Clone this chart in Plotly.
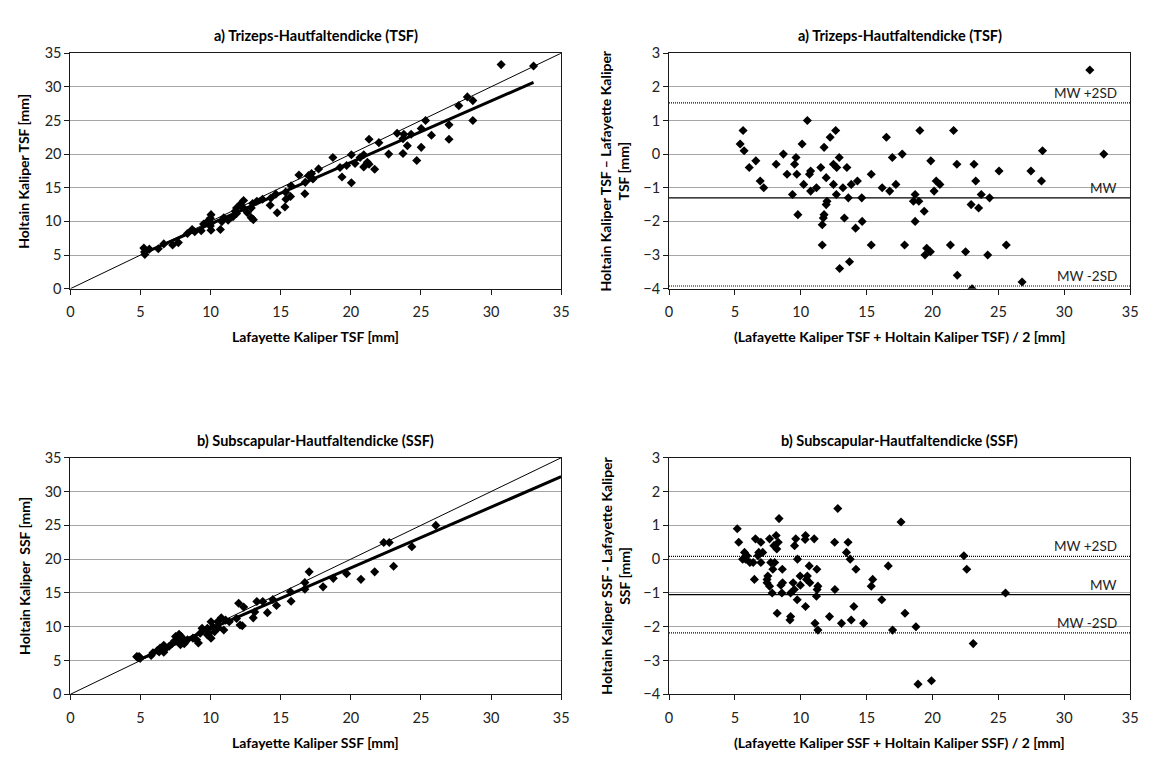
import plotly.graph_objects as go

# ---------------- data ----------------
# a) TSF: Lafayette (x) vs Holtain (y)
tsf_laf = [30.72, 33.03, 28.31, 28.7, 27.7, 28.7, 25.33, 25.02, 27.0, 25.75, 23.3, 23.78, 24.3, 23.72,
           27.0, 21.3, 22.0, 24.03, 25.02, 22.7, 23.72, 20.04, 18.72, 20.92, 20.66, 21.18, 21.3, 20.3,
           20.92, 21.7, 24.7, 19.7, 19.23, 19.37, 20.04, 17.7, 17.2, 16.98, 16.3, 17.3, 16.75, 16.72,
           15.74, 15.35, 15.7, 15.37, 15.3, 14.75, 14.65, 14.3, 14.25, 13.7, 13.3, 13.0, 12.35, 12.1,
           11.85, 12.35, 12.9, 11.75, 12.62, 12.9, 13.05, 11.85, 11.6, 11.25, 10.94, 10.8, 10.7, 10.03,
           9.98, 10.03, 9.98, 10.03, 9.77, 9.5, 9.33, 8.68, 8.35, 7.7, 7.29, 6.66, 6.27, 5.63, 5.24,
           5.29, 5.31, 8.87]
tsf_hol = [33.3, 33.1, 28.5, 27.95, 27.2, 24.99, 24.99, 23.8, 24.35, 22.8, 23.1, 22.95, 22.95, 22.3,
           22.2, 22.2, 21.7, 21.25, 21.0, 20.0, 20.1, 19.9, 19.5, 19.9, 19.5, 18.8, 18.5, 18.6,
           18.1, 17.75, 19.05, 18.3, 18.0, 16.6, 15.75, 17.8, 17.1, 16.8, 16.9, 16.3, 15.8, 14.1,
           15.3, 14.35, 13.7, 13.3, 12.15, 11.28, 14.05, 13.47, 12.4, 13.3, 13.0, 12.65, 13.1, 12.5,
           12.0, 12.0, 12.0, 11.5, 11.28, 10.55, 10.26, 11.18, 10.7, 10.16, 10.55, 9.97, 8.8, 11.0,
           10.45, 9.77, 9.33, 8.7, 9.97, 9.6, 8.6, 8.8, 8.2, 6.85, 6.5, 6.66, 5.93, 5.88, 6.03,
           5.45, 5.1, 8.46]

# a) TSF Bland-Altman: mean (x) vs difference (y)
tsf_mean = [31.94, 10.5, 5.62, 12.65, 19.04, 21.6, 16.5, 12.23, 5.4, 10.1, 5.7, 11.77, 28.35, 8.68,
            17.7, 33.0, 9.64, 12.92, 16.95, 6.59, 19.87, 8.13, 9.53, 12.48, 21.85, 23.15, 6.09, 11.52,
            12.73, 13.5, 10.75, 25.05, 27.47, 8.96, 9.7, 10.66, 15.35, 11.93, 6.92, 14.3, 20.28, 23.28,
            28.27, 10.22, 12.48, 13.83, 17.22, 20.56, 7.19, 11.19, 13.2, 16.18, 10.75, 16.75, 20.12,
            9.37, 12.7, 18.68, 23.7, 13.61, 14.63, 24.33, 11.99, 18.55, 18.96, 11.93, 22.93, 23.5,
            9.78, 11.77, 11.71, 13.31, 14.66, 18.68, 19.37, 11.63, 14.16, 11.63, 15.35, 17.88, 21.36,
            25.6, 19.56, 19.84, 22.51, 19.43, 24.19, 13.7, 12.95, 21.88, 26.8, 23.0]
tsf_diff = [2.5, 1.0, 0.7, 0.7, 0.7, 0.7, 0.5, 0.5, 0.3, 0.3, 0.1, 0.2, 0.1, 0.0,
            0.0, 0.0, -0.1, -0.1, -0.1, -0.2, -0.2, -0.3, -0.3, -0.3, -0.3, -0.3, -0.4, -0.4,
            -0.4, -0.4, -0.5, -0.5, -0.5, -0.6, -0.6, -0.6, -0.6, -0.7, -0.8, -0.8, -0.8, -0.8,
            -0.8, -0.9, -0.9, -0.9, -0.9, -0.9, -1.0, -1.0, -1.0, -1.0, -1.1, -1.1, -1.1,
            -1.2, -1.2, -1.2, -1.2, -1.3, -1.3, -1.3, -1.4, -1.4, -1.4, -1.5, -1.5, -1.6,
            -1.8, -1.8, -1.9, -1.9, -2.0, -2.0, -1.7, -2.1, -2.2, -2.7, -2.7, -2.7, -2.7,
            -2.7, -2.8, -2.9, -2.9, -3.0, -3.0, -3.2, -3.4, -3.6, -3.8, -4.0]

# b) SSF: Lafayette (x) vs Holtain (y)
ssf_laf = [26.06, 22.35, 22.74, 24.35, 23.05, 17.03, 16.72, 21.7, 19.7, 18.75, 20.72, 18.02, 16.72,
           15.69, 15.74, 14.7, 14.44, 13.72, 13.3, 14.05, 13.04, 13.15, 12.0, 12.36, 11.85, 12.26,
           12.1, 11.33, 10.76, 10.5, 10.94, 10.03, 10.16, 10.29, 9.77, 10.03, 9.39, 9.26, 9.0, 8.74,
           9.13, 8.22, 7.96, 7.75, 7.65, 7.85, 7.44, 7.23, 7.05, 6.74, 6.66, 6.4, 6.33, 6.66, 6.2,
           5.76, 5.89, 4.75, 4.9, 4.74, 4.98, 8.12, 8.35, 9.9, 10.55, 9.77, 11.07, 7.9, 7.5]
ssf_hol = [24.99, 22.47, 22.47, 21.85, 18.95, 18.12, 16.53, 18.12, 17.84, 17.16, 17.01, 15.9, 15.56,
           15.18, 13.78, 13.15, 14.02, 13.73, 13.73, 12.08, 11.31, 12.18, 13.48, 12.9, 11.21, 10.15,
           10.25, 10.73, 11.31, 10.73, 9.52, 10.73, 10.0, 9.28, 9.76, 8.31, 9.76, 9.04, 8.07, 8.31,
           7.59, 7.83, 8.31, 8.89, 7.83, 7.35, 7.93, 7.44, 7.1, 6.62, 7.25, 6.86, 6.28, 6.23, 6.48,
           5.75, 6.14, 5.51, 5.6, 5.6, 5.32, 7.49, 8.07, 9.04, 9.86, 8.8, 10.97, 8.55, 8.55]

# b) SSF Bland-Altman: mean (x) vs difference (y)
ssf_mean = [12.81, 8.35, 17.61, 5.18, 8.13, 10.36, 6.56, 7.63, 9.62, 11.02, 10.33, 5.29, 6.97, 8.29,
            12.57, 13.59, 9.53, 7.96, 8.18, 5.73, 6.81, 7.11, 13.47, 5.92, 22.38, 5.59, 6.75, 9.75,
            13.75, 6.14, 6.39, 6.97, 7.72, 8.02, 16.64, 10.64, 7.88, 8.6, 11.22, 14.19, 22.6, 7.5,
            9.95, 10.5, 6.48, 7.44, 10.44, 15.46, 9.42, 7.44, 8.62, 10.69, 8.49, 9.97, 7.63, 11.3,
            15.35, 9.51, 11.24, 12.59, 7.83, 8.57, 9.23, 25.54, 11.19, 9.73, 16.15, 10.36, 14.03,
            8.21, 17.91, 9.23, 12.18, 9.18, 13.83, 11.08, 13.09, 14.77, 18.74, 11.3, 16.97, 23.09,
            18.9, 19.92, 5.81]
ssf_diff = [1.5, 1.2, 1.1, 0.9, 0.7, 0.7, 0.6, 0.6, 0.6, 0.6, 0.58, 0.5, 0.5, 0.5,
            0.5, 0.5, 0.4, 0.4, 0.3, 0.2, 0.2, 0.2, 0.2, 0.1, 0.1, 0.0, 0.1, 0.0,
            0.0, -0.1, -0.1, -0.1, -0.1, -0.1, -0.2, -0.2, -0.3, -0.3, -0.3, -0.3, -0.3, -0.5,
            -0.5, -0.5, -0.6, -0.6, -0.6, -0.6, -0.7, -0.7, -0.7, -0.7, -0.77, -0.77, -0.8, -0.8,
            -0.8, -0.9, -0.9, -0.9, -1.0, -1.0, -1.0, -1.0, -1.1, -1.2, -1.2, -1.4, -1.4,
            -1.6, -1.6, -1.7, -1.7, -1.8, -1.8, -1.9, -1.9, -1.9, -2.0, -2.1, -2.1, -2.5,
            -3.7, -3.6, 0.0]

# reference / fit lines
identity_line = [0, 35]
tsf_fit = {"slope": 0.913, "intercept": 0.5}
ssf_fit = {"slope": 0.9, "intercept": 0.7}
tsf_limits = {"MW +2SD": 1.52, "MW": -1.3, "MW -2SD": -3.92}
ssf_limits = {"MW +2SD": 0.08, "MW": -1.05, "MW -2SD": -2.18}

titles = ["a) Trizeps-Hautfaltendicke (TSF)", "a) Trizeps-Hautfaltendicke (TSF)",
          "b) Subscapular-Hautfaltendicke (SSF)", "b) Subscapular-Hautfaltendicke (SSF)"]
x_titles = ["Lafayette Kaliper TSF [mm]",
            "(Lafayette Kaliper TSF + Holtain Kaliper TSF) / 2 [mm]",
            "Lafayette Kaliper SSF [mm]",
            "(Lafayette Kaliper SSF + Holtain Kaliper SSF) / 2 [mm]"]
y_titles = ["Holtain Kaliper TSF [mm]",
            "Holtain Kaliper TSF – Lafayette Kaliper<br>TSF [mm]",
            "Holtain Kaliper  SSF [mm]",
            "Holtain Kaliper SSF - Lafayette Kaliper<br>SSF [mm]"]

# ---------------- layout helpers ----------------
OFF = 8                      # default body margin of the html page
W, H = 1150 - OFF, 758 - OFF
FONT = "Lato"

def px(x):
    return (x - OFF) / W

def py(y):
    return 1 - (y - OFF) / H

# plot-area boxes in window pixels: (left, right, top, bottom)
boxes = [(67, 563, 45, 286), (672, 1138, 45, 286),
         (67, 563, 459, 701), (672, 1138, 459, 701)]

fig = go.Figure()
mk = dict(symbol="diamond", size=7, color="black", line=dict(width=0))

def add(tr, i):
    tr.xaxis = "x" if i == 0 else f"x{i+1}"
    tr.yaxis = "y" if i == 0 else f"y{i+1}"
    tr.showlegend = False
    tr.hoverinfo = "x+y"
    fig.add_trace(tr)

# panel 1
add(go.Scatter(x=identity_line, y=identity_line, mode="lines",
               line=dict(color="black", width=1)), 0)
fx = [min(tsf_laf), max(tsf_laf)]
add(go.Scatter(x=fx, y=[tsf_fit["intercept"] + tsf_fit["slope"] * v for v in fx], mode="lines",
               line=dict(color="black", width=3)), 0)
add(go.Scatter(x=tsf_laf, y=tsf_hol, mode="markers", marker=mk), 0)

# panel 3
add(go.Scatter(x=identity_line, y=identity_line, mode="lines",
               line=dict(color="black", width=1)), 2)
fx = [min(ssf_laf), identity_line[1]]
add(go.Scatter(x=fx, y=[ssf_fit["intercept"] + ssf_fit["slope"] * v for v in fx], mode="lines",
               line=dict(color="black", width=3)), 2)
add(go.Scatter(x=ssf_laf, y=ssf_hol, mode="markers", marker=mk), 2)

annotations = []
# Bland-Altman panels
for i, (mx, dy, lims) in [(1, (tsf_mean, tsf_diff, tsf_limits)), (3, (ssf_mean, ssf_diff, ssf_limits))]:
    for name, val in lims.items():
        dash = "solid" if name == "MW" else "1px,1px"
        add(go.Scatter(x=identity_line, y=[val, val], mode="lines",
                       line=dict(color="black", width=1.2, dash=dash)), i)
        annotations.append(dict(
            x=34.15, y=val, xref=f"x{i+1}", yref=f"y{i+1}", text=name, showarrow=False,
            xanchor="right", yanchor="bottom", font=dict(family=FONT, size=13.5, color="#222222")))
    add(go.Scatter(x=mx, y=dy, mode="markers", marker=mk), i)

axis_common = dict(showline=True, linecolor="#1a1a1a", linewidth=1, mirror=True,
                   ticks="outside", ticklen=5, tickcolor="#1a1a1a", zeroline=False,
                   tickfont=dict(family=FONT, size=14.5, color="#222222"))
ranges_y = [(0, 35, 5), (-4, 3, 1), (0, 35, 5), (-4, 3, 1)]
for i, (l, r, t, b) in enumerate(boxes):
    xname = "xaxis" if i == 0 else f"xaxis{i+1}"
    yname = "yaxis" if i == 0 else f"yaxis{i+1}"
    ylo, yhi, dt = ranges_y[i]
    fig.layout[xname] = dict(axis_common, domain=[px(l), px(r)], range=[0, 35], dtick=5,
                             tick0=0, showgrid=False, ticklabelstandoff=5,
                             anchor="y" if i == 0 else f"y{i+1}")
    fig.layout[yname] = dict(axis_common, domain=[py(b), py(t)], range=[ylo, yhi], dtick=dt,
                             tick0=0, showgrid=True, gridcolor="#a6a6a6", gridwidth=1.3,
                             anchor="x" if i == 0 else f"x{i+1}")
    cx = (l + r) / 2
    # panel title
    annotations.append(dict(x=px(cx), y=py(t - 18), xref="paper", yref="paper",
                            text=f"<b>{titles[i]}</b>", showarrow=False,
                            xanchor="center", yanchor="middle",
                            font=dict(family=FONT, size=14.5, color="black")))
    # x title
    annotations.append(dict(x=px(cx), y=py(b + 49), xref="paper", yref="paper",
                            text=f"<b>{x_titles[i]}</b>", showarrow=False,
                            xanchor="center", yanchor="middle",
                            font=dict(family=FONT, size=14, color="black")))
    # y title
    ytx = 20 if l < 300 else 617
    annotations.append(dict(x=px(ytx), y=py((t + b) / 2), xref="paper", yref="paper",
                            text=f"<b>{y_titles[i]}</b>", showarrow=False, textangle=-90,
                            xanchor="center", yanchor="middle",
                            font=dict(family=FONT, size=14, color="black")))

fig.update_layout(width=W, height=H, margin=dict(l=0, r=0, t=0, b=0),
                  paper_bgcolor="white", plot_bgcolor="white",
                  annotations=annotations, font=dict(family=FONT))
fig.write_html("out.html")
